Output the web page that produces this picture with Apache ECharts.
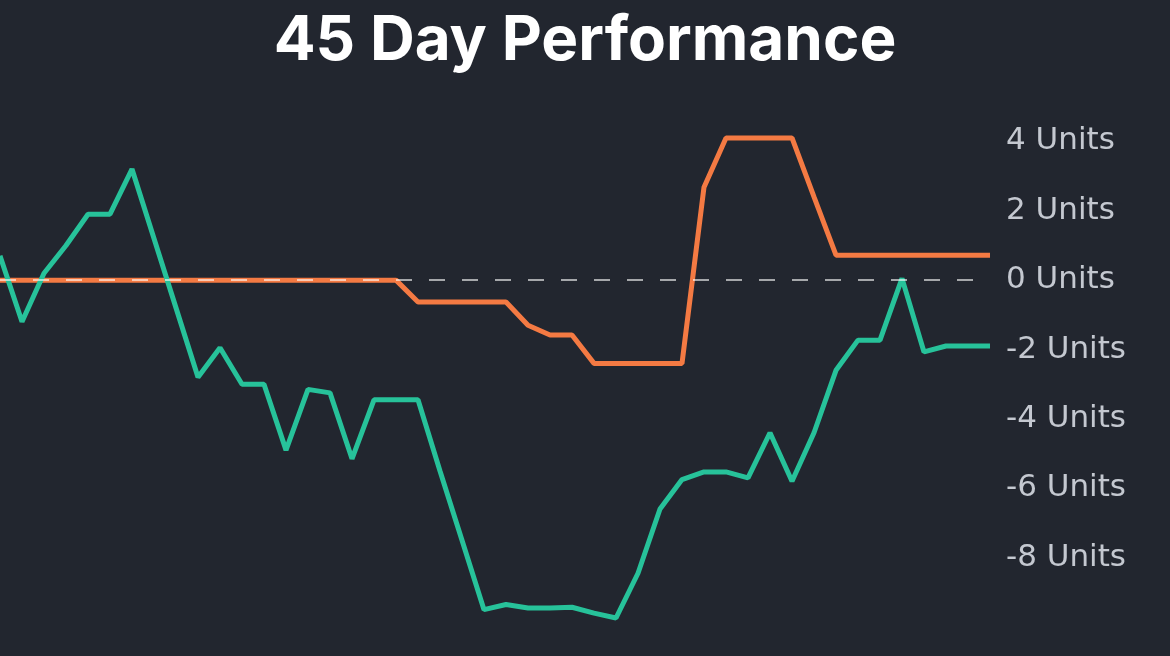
<!DOCTYPE html>
<html>

<head>
    <meta charset="utf-8" />
    <script src="https://cdn.jsdelivr.net/npm/echarts@6/dist/echarts.min.js"></script>
    <style>
        html, body { margin: 0; padding: 0; background: #22262f; }
    </style>
</head>

<body>
    <div id="main" style="width: 1170px;height:656px;"></div>
    <script type="text/javascript">
        // day index 0..45
        const days = Array.from({ length: 46 }, (_, i) => 'Day ' + i);

        const tealValues = [
            0.7, -1.2, 0.2, 1.0, 1.9, 1.9, 3.2, 1.2, -0.8, -2.8,
            -1.95, -3.0, -3.0, -4.9, -3.15, -3.25, -5.15, -3.45, -3.45, -3.45,
            -5.5, -7.5, -9.5, -9.35, -9.45, -9.45, -9.43, -9.6, -9.74, -8.45,
            -6.6, -5.75, -5.53, -5.53, -5.7, -4.4, -5.8, -4.4, -2.6, -1.73,
            -1.73, 0.05, -2.07, -1.9, -1.9, -1.9
        ];

        const orangeValues = [
            0, 0, 0, 0, 0, 0, 0, 0, 0, 0,
            0, 0, 0, 0, 0, 0, 0, 0, 0, -0.63,
            -0.63, -0.63, -0.63, -0.63, -1.3, -1.58, -1.58, -2.4, -2.4, -2.4,
            -2.4, -2.4, 2.68, 4.1, 4.1, 4.1, 4.1, 2.4, 0.72, 0.72,
            0.72, 0.72, 0.72, 0.72, 0.72, 0.72
        ];

        const yTicks = { min: -10, max: 6, interval: 2 };

        const myChart = echarts.init(document.getElementById('main'));
        myChart.setOption({
            backgroundColor: '#22262f',
            animation: false,
            title: {
                text: '45 Day Performance',
                left: 'center',
                top: 5,
                textStyle: {
                    color: '#ffffff',
                    fontSize: 62,
                    fontWeight: 'bold',
                    fontFamily: 'Inter'
                }
            },
            grid: { left: 0, right: 180, top: 72, bottom: 29 },
            xAxis: {
                type: 'category',
                data: days,
                boundaryGap: false,
                show: false
            },
            yAxis: {
                type: 'value',
                position: 'right',
                min: yTicks.min,
                max: yTicks.max,
                interval: yTicks.interval,
                axisLine: { show: false },
                axisTick: { show: false },
                splitLine: { show: false },
                axisLabel: {
                    showMinLabel: false,
                    showMaxLabel: false,
                    margin: 16,
                    color: '#c4c8d0',
                    fontSize: 31,
                    fontFamily: 'DejaVu Sans',
                    formatter: v => v + ' Units'
                }
            },
            series: [
                {
                    name: 'Orange',
                    type: 'line',
                    data: orangeValues,
                    symbol: 'none',
                    lineStyle: { color: '#f47a43', width: 5 },
                    z: 2
                },
                {
                    name: 'Teal',
                    type: 'line',
                    data: tealValues,
                    symbol: 'none',
                    lineStyle: { color: '#27c29a', width: 5 },
                    z: 3
                },
                {
                    name: 'Zero',
                    type: 'line',
                    data: [],
                    z: 5,
                    markLine: {
                        silent: true,
                        symbol: 'none',
                        label: { show: false },
                        lineStyle: {
                            color: 'rgba(255,255,255,0.6)',
                            width: 2,
                            type: [16, 17]
                        },
                        data: [{ yAxis: 0 }]
                    }
                }
            ]
        });
    </script>
</body>

</html>
